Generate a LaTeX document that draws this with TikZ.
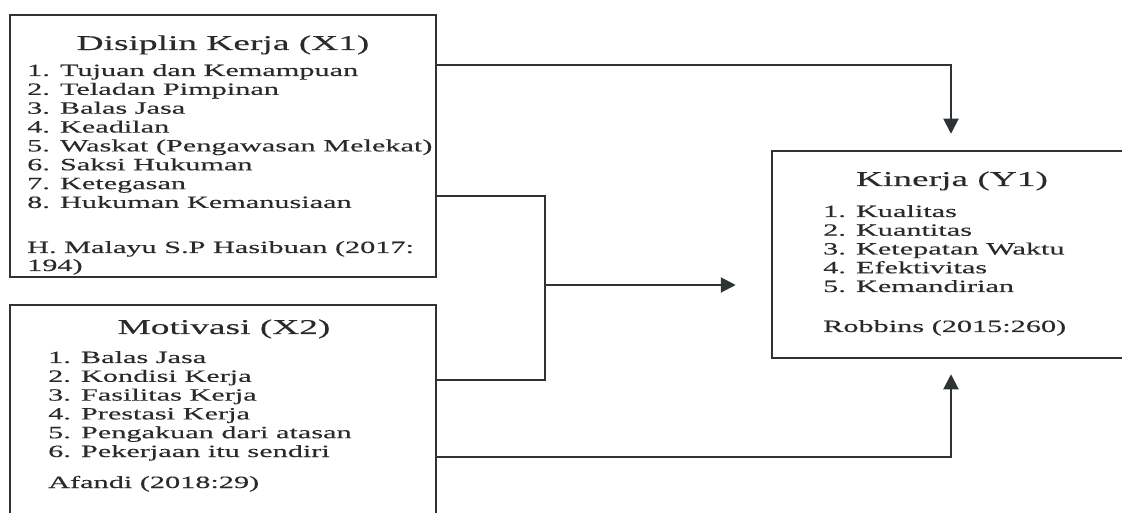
\documentclass[tikz,border=0pt]{standalone}
\usepackage{fontspec}
\setmainfont{Liberation Serif}[FakeStretch=1.8]
\newfontfamily\titlefont{Liberation Serif}[FakeStretch=1.78, FakeBold=0.3]
\newfontfamily\itemfont{Liberation Serif}[FakeStretch=1.76, FakeBold=0.3]
\usetikzlibrary{arrows.meta}
\definecolor{ink}{HTML}{2E3336}
\definecolor{txt}{HTML}{2A2A2A}
\tikzset{
  varbox/.style={draw=ink, line width=2.5bp, inner sep=0pt},
  boxtitle/.style={anchor=base, inner sep=0pt, text=txt,
    font=\titlefont\fontsize{21bp}{24bp}\selectfont},
  item/.style={anchor=base west, inner sep=0pt, text=txt,
    font=\itemfont\fontsize{17.2bp}{19bp}\selectfont},
  link/.style={draw=ink, line width=2bp},
  arr/.style={link, -{Triangle[length=15bp,width=15bp]}},
}
\begin{document}
\begin{tikzpicture}[x=1bp,y=-1bp]
\useasboundingbox (0,0) rectangle (1122,513);
\clip (0,0) rectangle (1122,513);

% variable boxes
\node[varbox, minimum width=426bp, minimum height=262bp] (x1) at (223,146) {};
\node[varbox, minimum width=426bp, minimum height=240bp] (x2) at (223,425) {};
\node[varbox, minimum width=380bp, minimum height=207bp] (y1) at (962,254.5) {};

% Disiplin Kerja (X1)
\node[boxtitle] (x1t) at (223,50) {Disiplin Kerja (X1)};
\foreach \t [count=\i from 0] in {1. Tujuan dan Kemampuan, 2. Teladan Pimpinan,
    3. Balas Jasa, 4. Keadilan, 5. Waskat (Pengawasan Melekat), 6. Saksi Hukuman,
    7. Ketegasan, 8. Hukuman Kemanusiaan}
  \node[item] (x1i\i) at (27,76+18.85*\i) {\t};
\node[item] (x1s1) at (27,253) {H. Malayu S.P Hasibuan (2017:};
\node[item] (x1s2) at (27,271) {194)};

% Motivasi (X2)
\node[boxtitle] (x2t) at (224,334) {Motivasi (X2)};
\foreach \t [count=\i from 0] in {1. Balas Jasa, 2. Kondisi Kerja, 3. Fasilitas Kerja,
    4. Prestasi Kerja, 5. Pengakuan dari atasan, 6. Pekerjaan itu sendiri}
  \node[item] (x2i\i) at (48,363+18.8*\i) {\t};
\node[item] (x2s) at (48,488) {Afandi (2018:29)};

% Kinerja (Y1)
\node[boxtitle] (y1t) at (952,186) {Kinerja (Y1)};
\foreach \t [count=\i from 0] in {1. Kualitas, 2. Kuantitas, 3. Ketepatan Waktu,
    4. Efektivitas, 5. Kemandirian}
  \node[item] (y1i\i) at (823,217+18.75*\i) {\t};
\node[item] (y1s) at (823,332) {Robbins (2015:260)};

% connectors
\coordinate (jx) at (545,285);
\draw[arr, shorten >=16bp] (x1.east |- 0,65) -| (y1.north -| 951,0);
\draw[link] (x1.east |- 0,196) -| (jx |- 0,380) -- (x2.east |- 0,380);
\draw[arr, shorten >=35bp] (jx) -- (y1.west |- jx);
\draw[arr, shorten >=15bp] (x2.east |- 0,457) -| (y1.south -| 951,0);
\end{tikzpicture}
\end{document}
